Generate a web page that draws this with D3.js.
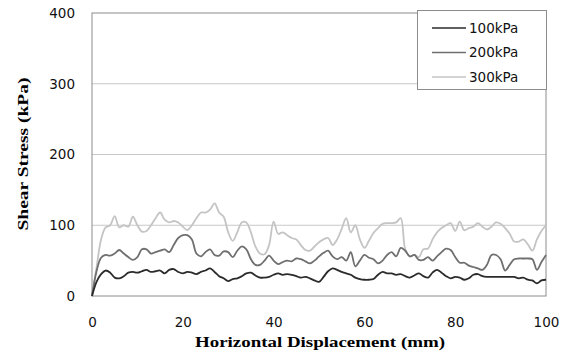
<!DOCTYPE html>
<html>
<head>
<meta charset="utf-8">
<script src="https://cdn.jsdelivr.net/npm/d3@7"></script>
<style>
  html, body { margin: 0; padding: 0; background: #fff; }
  svg { display: block; }
</style>
</head>
<body>
<svg id="chart" width="568" height="358"></svg>
<script>
// Horizontal displacement (mm), one reading per millimetre
const displacement = d3.range(0, 101);

// Shear stress (kPa) for each normal stress level
const stress100 = [0,20,31,36,33,26,25,28,33,34,33,35,37,34,35,36,32,37,38,34,32,34,33,31,34,36,39,34,28,25,21,24,25,28,32,33,29,26,26,27,30,32,30,31,30,28,26,27,25,22,20,27,35,39,37,34,32,30,26,24,23,23,24,30,34,32,32,30,31,28,26,29,32,28,26,33,37,33,28,25,27,26,23,25,30,31,28,27,27,27,27,27,27,27,25,26,23,22,18,22,23];
const stress200 = [0,35,54,58,57,60,65,60,55,51,55,66,66,60,62,64,66,62,72,82,86,86,80,60,56,62,66,58,57,63,62,55,64,70,66,52,44,44,50,57,50,45,48,50,49,53,52,49,46,50,56,61,64,56,52,55,50,62,42,50,58,54,52,46,50,58,62,56,68,64,56,58,51,51,55,50,56,62,67,65,55,47,47,43,41,39,37,44,58,58,52,36,44,52,53,53,53,52,37,48,58];
const stress300 = [0,40,80,97,100,113,97,100,98,112,100,91,92,100,110,118,108,104,106,104,98,93,100,110,118,118,122,131,118,112,90,78,90,104,104,90,70,60,59,72,105,88,90,86,82,80,72,65,64,70,76,80,82,72,80,95,110,90,100,80,68,78,89,96,102,103,103,104,110,66,56,58,55,66,67,80,90,96,100,103,92,105,93,96,98,103,98,94,98,104,102,96,88,77,77,80,73,64,80,92,100];

const seriesNames = ["100kPa", "200kPa", "300kPa"];
const seriesColors = ["#2b2b2b", "#6f6f6f", "#c4c4c4"];
const seriesValues = [stress100, stress200, stress300];

const xTicks = [0, 20, 40, 60, 80, 100];
const yTicks = [0, 100, 200, 300, 400];

const svg = d3.select("#chart");
const x = d3.scaleLinear().domain([0, 100]).range([92, 546]);
const y = d3.scaleLinear().domain([0, 400]).range([296, 13]);

const tickFont = "'DejaVu Sans', sans-serif";
const titleFont = "'Liberation Serif', 'DejaVu Serif', serif";

// Horizontal gridlines
svg.append("g")
  .selectAll("line")
  .data(yTicks.filter(t => t > 0 && t < 400))
  .join("line")
  .attr("x1", x(0)).attr("x2", x(100))
  .attr("y1", d => y(d)).attr("y2", d => y(d))
  .attr("stroke", "#c8c8c8")
  .attr("stroke-width", 1);

// Plot frame
svg.append("rect")
  .attr("x", x(0)).attr("y", y(400))
  .attr("width", x(100) - x(0)).attr("height", y(0) - y(400))
  .attr("fill", "none")
  .attr("stroke", "#8c8c8c")
  .attr("stroke-width", 1);

// Y axis
const yAxis = svg.append("g")
  .attr("transform", `translate(${x(0)},0)`)
  .call(d3.axisLeft(y).tickValues(yTicks).tickSize(0).tickPadding(17));
yAxis.select(".domain").remove();
yAxis.selectAll("text")
  .attr("font-family", tickFont).attr("font-size", 13.5).attr("fill", "#111");

// X axis
const xAxis = svg.append("g")
  .attr("transform", `translate(0,${y(0)})`)
  .call(d3.axisBottom(x).tickValues(xTicks).tickSize(0).tickPadding(21));
xAxis.select(".domain").remove();
xAxis.selectAll("text")
  .attr("font-family", tickFont).attr("font-size", 13.5).attr("fill", "#111");

// Axis titles
svg.append("text")
  .attr("x", 320).attr("y", 347)
  .attr("text-anchor", "middle")
  .attr("font-family", titleFont).attr("font-weight", "bold").attr("font-size", 15)
  .attr("textLength", 250).attr("lengthAdjust", "spacingAndGlyphs")
  .attr("fill", "#000")
  .text("Horizontal Displacement (mm)");

svg.append("text")
  .attr("transform", "translate(28,154) rotate(-90)")
  .attr("text-anchor", "middle")
  .attr("font-family", titleFont).attr("font-weight", "bold").attr("font-size", 15)
  .attr("textLength", 153).attr("lengthAdjust", "spacingAndGlyphs")
  .attr("fill", "#000")
  .text("Shear Stress (kPa)");

// Curves (light series underneath)
const line = d3.line()
  .x((d, i) => x(displacement[i]))
  .y(d => y(d))
  .curve(d3.curveCatmullRom.alpha(0.5));

const order = [2, 1, 0];
svg.append("g")
  .selectAll("path")
  .data(order)
  .join("path")
  .attr("d", k => line(seriesValues[k]))
  .attr("fill", "none")
  .attr("stroke", k => seriesColors[k])
  .attr("stroke-width", 1.8)
  .attr("stroke-linejoin", "round");

// Legend
const legend = svg.append("g");
legend.append("rect")
  .attr("x", 417.5).attr("y", 10.5).attr("width", 129).attr("height", 79)
  .attr("fill", "#fff").attr("stroke", "#8c8c8c").attr("stroke-width", 1);

const rows = legend.selectAll("g.row")
  .data(seriesNames)
  .join("g")
  .attr("class", "row")
  .attr("transform", (d, i) => `translate(0,${28 + i * 24.5})`);
rows.append("line")
  .attr("x1", 432).attr("x2", 466).attr("y1", 0).attr("y2", 0)
  .attr("stroke", (d, i) => seriesColors[i]).attr("stroke-width", 1.3);
rows.append("text")
  .attr("x", 469).attr("y", 0).attr("dy", "0.35em")
  .attr("font-family", tickFont).attr("font-size", 13.5).attr("fill", "#111")
  .text(d => d);
</script>
</body>
</html>
